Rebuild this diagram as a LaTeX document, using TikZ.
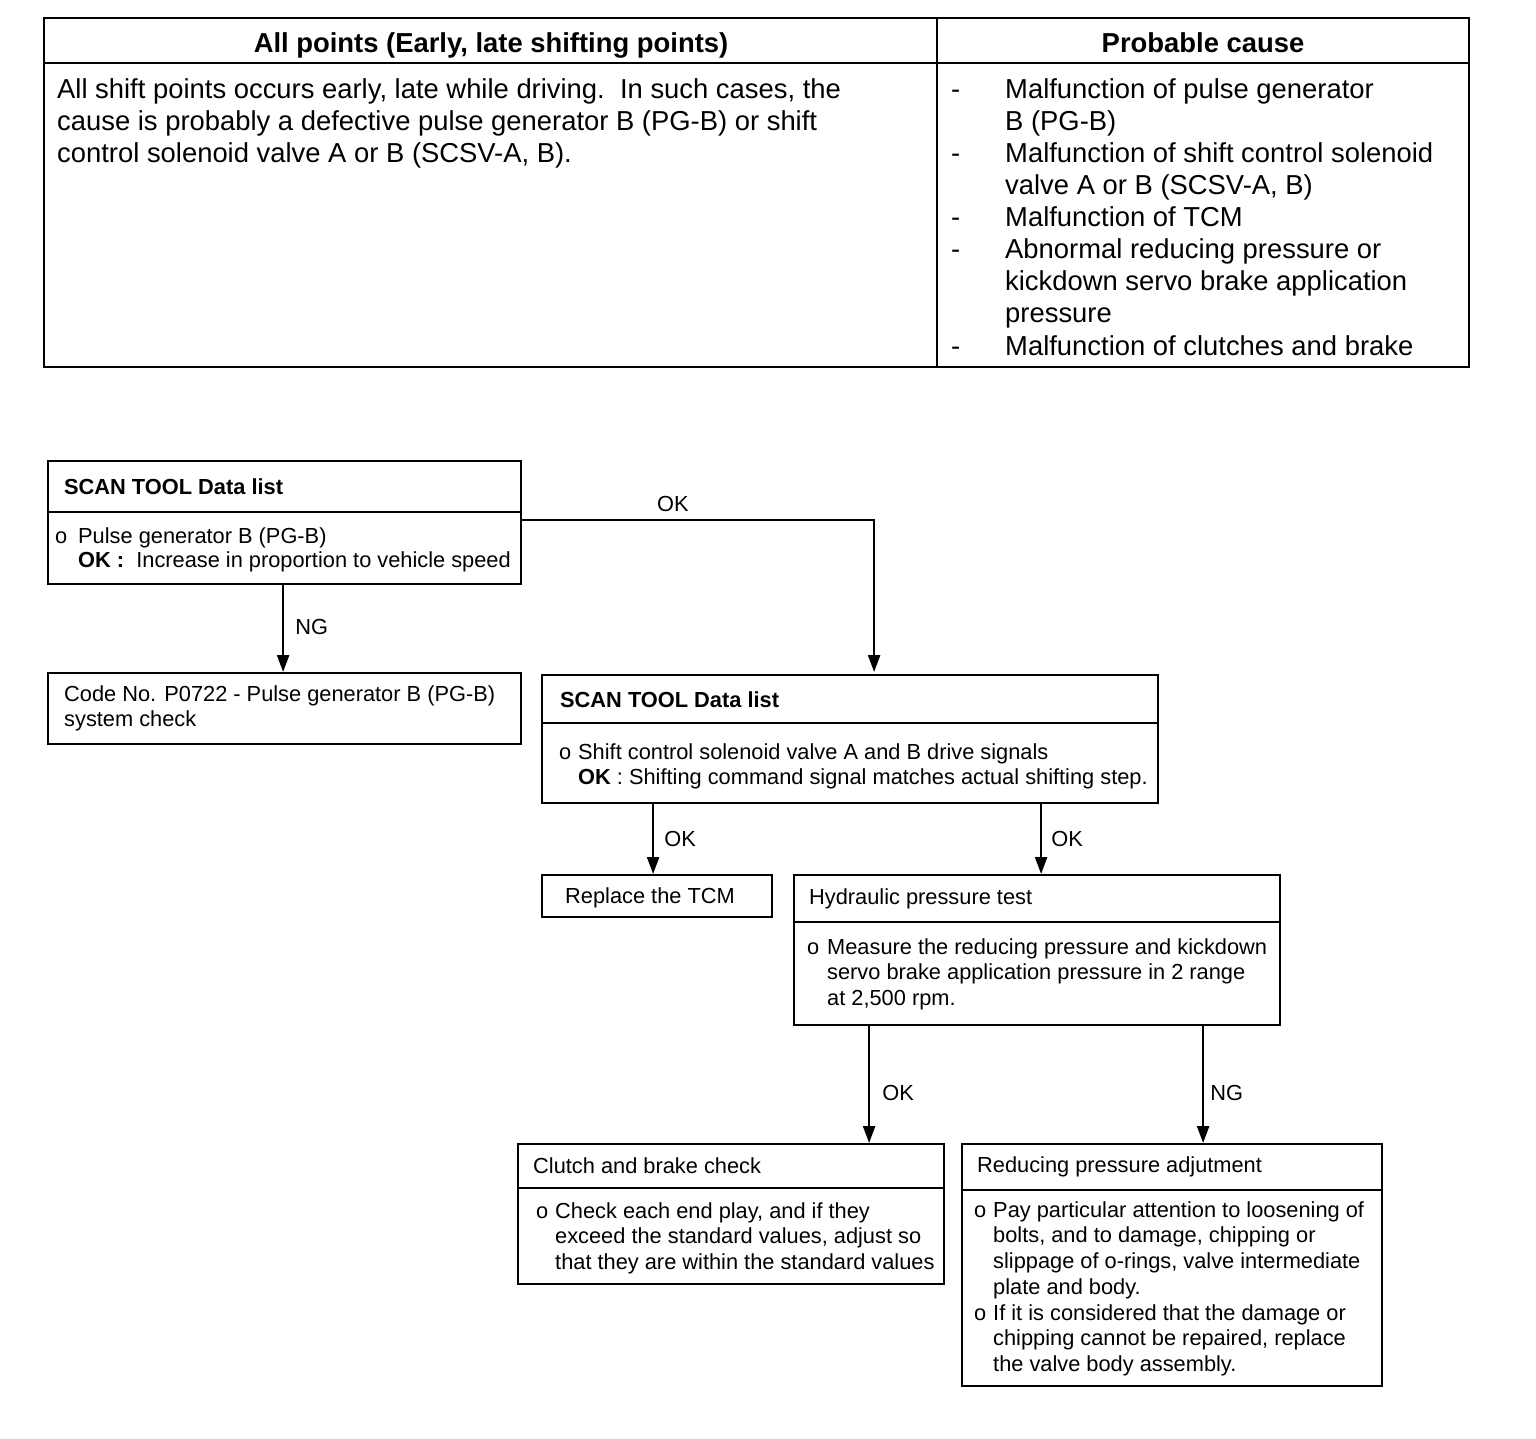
\documentclass[tikz,border=0pt]{standalone}
\usepackage{fontspec}
\setmainfont{Liberation Sans}
\usetikzlibrary{arrows.meta}
\newcommand\tabf{\fontsize{27.4}{32}\selectfont}
\newcommand\flowf{\fontsize{21.8}{25.7}\selectfont}
\begin{document}
\begin{tikzpicture}[x=1pt,y=-1pt,
  frame/.style={draw,line width=2.2pt,inner sep=0pt,anchor=north west},
  tl/.style={line width=2pt},
  bl/.style={line width=2.2pt},
  arr/.style={line width=2.4pt,-{Triangle[length=17pt,width=12pt]}},
  ttxt/.style={anchor=north west,inner sep=0pt,align=left,font=\tabf},
  tone/.style={anchor=base west,inner sep=0pt,font=\tabf},
  ftxt/.style={anchor=north west,inner sep=0pt,align=left,font=\flowf},
  fone/.style={anchor=base west,inner sep=0pt,font=\flowf},
  lbl/.style={font=\flowf,inner sep=0pt}]
\useasboundingbox (0,0) rectangle (1536,1438);
\fill[white] (0,0) rectangle (1536,1438);

% ---------- table ----------
\node[frame,line width=2pt,minimum width=1425pt,minimum height=349pt] (tab) at (43,17) {};
\draw[tl] (43,63) -- (1468,63);
\draw[tl] (937,17) -- (937,366);
\node[font=\tabf\bfseries,inner sep=0pt,anchor=base] (h1) at (491,52) {All points (Early, late shifting points)};
\node[font=\tabf\bfseries,inner sep=0pt,anchor=base] (h2) at (1203,52) {Probable cause};
\node[ttxt] (lb) at (57,78) {All shift points occurs early, late while driving.\ \ In such cases, the\\cause is probably a defective pulse generator B (PG-B) or shift\\control solenoid valve A or B (SCSV-A, B).};
\node[tone] (d1) at (951,98) {-};
\node[tone] (d2) at (951,162) {-};
\node[tone] (d3) at (951,226) {-};
\node[tone] (d4) at (951,258) {-};
\node[tone] (d5) at (951,355) {-};
\node[ttxt] (r1) at (1005,78) {Malfunction of pulse generator\\B (PG-B)};
\node[ttxt] (r2) at (1005,142) {Malfunction of shift control solenoid\\valve A or B (SCSV-A, B)};
\node[ttxt] (r3) at (1005,206) {Malfunction of TCM};
\node[ttxt] (r4) at (1005,238) {Abnormal reducing pressure or\\kickdown servo brake application\\pressure};
\node[ttxt] (r5) at (1005,335) {Malfunction of clutches and brake};

% ---------- flowchart boxes ----------
\node[frame,minimum width=473pt,minimum height=123pt] (b1) at (47,460) {};
\draw[bl] (47,512) -- (520,512);
\node[fone,font=\flowf\bfseries] (b1t) at (64,494) {SCAN TOOL Data list};
\node[fone] (b1o) at (55,543) {o};
\node[ftxt,font=\fontsize{21.8}{24}\selectfont] (b1b) at (78,527) {Pulse generator B (PG-B)\\\textbf{OK :}\ \ Increase in proportion to vehicle speed};

\node[frame,minimum width=473pt,minimum height=71pt] (b2) at (47,672) {};
\node[ftxt] (b2b) at (64,685) {Code No. P0722 - Pulse generator B (PG-B)\\system check};

\node[frame,minimum width=616pt,minimum height=128pt] (b3) at (541,674) {};
\draw[bl] (541,723) -- (1157,723);
\node[fone,font=\flowf\bfseries] (b3t) at (560,707) {SCAN TOOL Data list};
\node[fone] (b3o) at (559,759) {o};
\node[ftxt] (b3b) at (578,743) {Shift control solenoid valve A and B drive signals\\\textbf{OK} : Shifting command signal matches actual shifting step.};

\node[frame,minimum width=230pt,minimum height=42pt] (b4) at (541,874) {};
\node[fone] (b4t) at (565,903) {Replace the TCM};

\node[frame,minimum width=486pt,minimum height=150pt] (b5) at (793,874) {};
\draw[bl] (793,922) -- (1279,922);
\node[fone] (b5t) at (809,904) {Hydraulic pressure test};
\node[fone] (b5o) at (807,954) {o};
\node[ftxt] (b5b) at (827,938) {Measure the reducing pressure and kickdown\\servo brake application pressure in 2 range\\at 2,500 rpm.};

\node[frame,minimum width=426pt,minimum height=140pt] (b6) at (517,1143) {};
\draw[bl] (517,1188) -- (943,1188);
\node[fone] (b6t) at (533,1173) {Clutch and brake check};
\node[fone] (b6o) at (536,1218) {o};
\node[ftxt] (b6b) at (555,1202) {Check each end play, and if they\\exceed the standard values, adjust so\\that they are within the standard values};

\node[frame,minimum width=420pt,minimum height=242pt] (b7) at (961,1143) {};
\draw[bl] (961,1190) -- (1381,1190);
\node[fone] (b7t) at (977,1172) {Reducing pressure adjutment};
\node[fone] (b7o1) at (974,1217) {o};
\node[ftxt] (b7b1) at (993,1201) {Pay particular attention to loosening of\\bolts, and to damage, chipping or\\slippage of o-rings, valve intermediate\\plate and body.};
\node[fone] (b7o2) at (974,1320) {o};
\node[ftxt] (b7b2) at (993,1304) {If it is considered that the damage or\\chipping cannot be repaired, replace\\the valve body assembly.};

% ---------- connectors ----------
\draw[arr] ([xshift=-1.5pt]b1.south) -- node[lbl,right=11pt,pos=0.48] (l1) {NG} ([xshift=-1.5pt]b2.north);
\draw[arr] ([yshift=2.5pt]b1.east) -| node[lbl,above=7pt,pos=0.214] (l2) {OK} ([xshift=24pt,yshift=2pt]b3.north);
\draw[arr] ([xshift=-4pt]b4.north |- b3.south) -- node[lbl,right=10pt] (l3) {OK} ([xshift=-4pt]b4.north);
\draw[arr] ([xshift=4pt]b5.north |- b3.south) -- node[lbl,right=9pt] (l4) {OK} ([xshift=4pt]b5.north);
\draw[arr] ([xshift=138pt]b6.north |- b5.south) -- node[lbl,right=12pt,pos=0.57] (l5) {OK} ([xshift=138pt]b6.north);
\draw[arr] ([xshift=31pt]b7.north |- b5.south) -- node[lbl,right=6pt,pos=0.57] (l6) {NG} ([xshift=31pt]b7.north);
\end{tikzpicture}
\end{document}
